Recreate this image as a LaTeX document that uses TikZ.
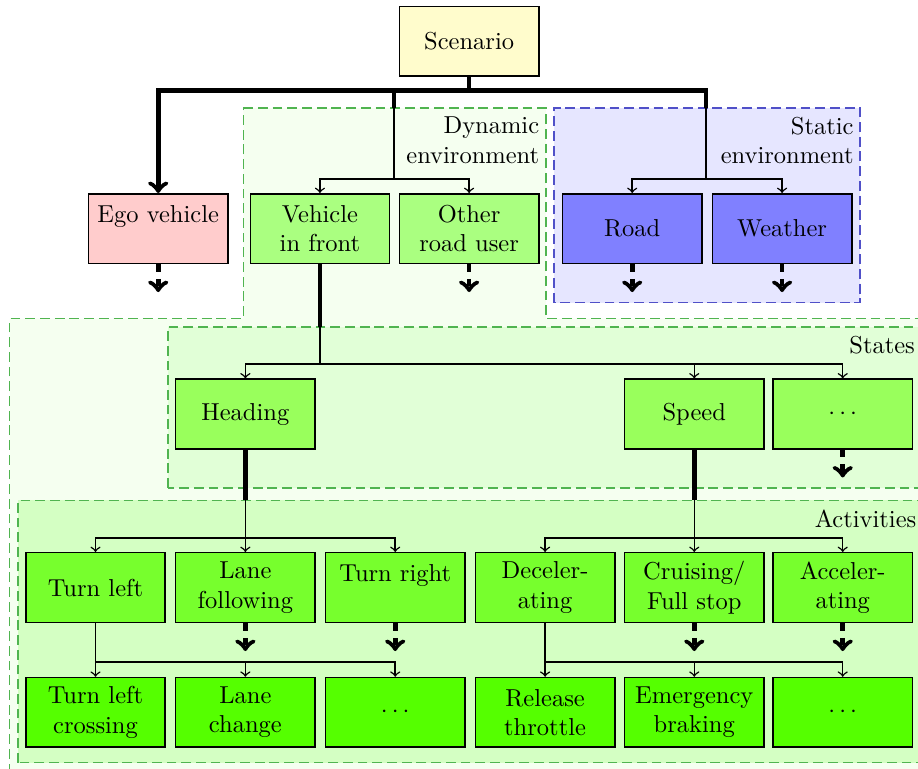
\documentclass[tikz,border=0pt]{standalone}
\usepackage{tikz,xcolor}
\definecolor{scenYellow}{RGB}{255,252,204}
\definecolor{egoRed}{RGB}{255,204,204}
\definecolor{dynGreen}{RGB}{170,255,128}
\definecolor{stateGreen}{RGB}{153,255,92}
\definecolor{actGreen}{RGB}{119,255,45}
\definecolor{subGreen}{RGB}{85,255,0}
\definecolor{staticBlue}{RGB}{128,128,255}
\definecolor{frameGreen}{RGB}{80,180,80}
\definecolor{frameBlue}{RGB}{80,80,200}
\definecolor{dynBg}{RGB}{245,255,240}
\definecolor{stateBg}{RGB}{225,255,215}
\definecolor{actBg}{RGB}{212,255,195}
\definecolor{staticBg}{RGB}{230,230,255}

\tikzset{
  box/.style={draw, semithick, minimum width=2cm, minimum height=1cm, align=center, inner sep=2pt},
  region/.style={semithick, dash pattern=on 4pt off 2pt},
  trunk/.style={line width=1.9pt},
  branch/.style={semithick},
  more/.style={->, line width=1.9pt, dash pattern=on 3pt off 3pt},
  tag/.style={anchor=north east, align=right, inner xsep=2.5pt, inner ysep=3.5pt}
}

\begin{document}
\begin{tikzpicture}

\useasboundingbox (0,0) rectangle (13.17,11.03);
\clip (0,0) rectangle (13.17,11.03);

% ── Regions ──
\fill[dynBg] (3.49,9.48) -- (7.83,9.48) -- (7.83,6.46) -- (13.35,6.46) -- (13.35,-0.1)
  -- (0.14,-0.1) -- (0.14,6.46) -- (3.49,6.46) -- cycle;
\draw[region, frameGreen] (3.49,9.48) -- (7.83,9.48) -- (7.83,6.46) -- (13.35,6.46) -- (13.35,-0.1)
  -- (0.14,-0.1) -- (0.14,6.46) -- (3.49,6.46) -- cycle;
\filldraw[region, draw=frameBlue, fill=staticBg] (7.95,6.69) rectangle (12.34,9.48);
\filldraw[region, draw=frameGreen, fill=stateBg] (2.41,4.03) rectangle (13.22,6.34);
\filldraw[region, draw=frameGreen, fill=actBg] (0.26,0.09) rectangle (13.24,3.85);

\node[tag] (dynlabel) at (7.83,9.48) {Dynamic\\environment};
\node[tag] (stlabel) at (12.34,9.48) {Static\\environment};
\node[tag] (statelabel) at (13.22,6.34) {States};
\node[tag] (actlabel) at (13.24,3.85) {Activities};

% ── Top levels ──
\node[box, fill=scenYellow] (scenario) at (6.73,10.44) {Scenario};
\node[box, fill=egoRed] (ego) at (2.27,7.75) {Ego vehicle\\\mbox{}};
\node[box, fill=dynGreen] (vfront) at (4.59,7.75) {Vehicle\\in front};
\node[box, fill=dynGreen] (other) at (6.73,7.75) {Other\\road user};
\node[box, fill=staticBlue] (road) at (9.07,7.75) {Road};
\node[box, fill=staticBlue] (weather) at (11.22,7.75) {Weather};

% ── States ──
\node[box, fill=stateGreen] (heading) at (3.52,5.09) {Heading};
\node[box, fill=stateGreen] (speed) at (9.96,5.09) {Speed};
\node[box, fill=stateGreen] (sdots) at (12.09,5.09) {$\cdots$};

% ── Activities ──
\node[box, fill=actGreen] (tleft) at (1.37,2.60) {Turn left};
\node[box, fill=actGreen] (lanef) at (3.52,2.60) {Lane\\following};
\node[box, fill=actGreen] (tright) at (5.67,2.60) {Turn right\\\mbox{}};
\node[box, fill=actGreen] (decel) at (7.82,2.60) {Deceler-\\ating};
\node[box, fill=actGreen] (cruise) at (9.96,2.60) {Cruising/\\Full stop};
\node[box, fill=actGreen] (accel) at (12.09,2.60) {Acceler-\\ating};

\node[box, fill=subGreen] (tlcross) at (1.37,0.81) {Turn left\\crossing};
\node[box, fill=subGreen] (lchange) at (3.52,0.81) {Lane\\change};
\node[box, fill=subGreen] (adots) at (5.67,0.81) {$\cdots$};
\node[box, fill=subGreen] (release) at (7.82,0.81) {Release\\throttle};
\node[box, fill=subGreen] (emerg) at (9.96,0.81) {Emergency\\braking};
\node[box, fill=subGreen] (bdots) at (12.09,0.81) {$\cdots$};

% ── Connectors ──
\coordinate (bus) at (6.73,9.73);
\coordinate (dyntop) at (5.65,9.48);
\coordinate (sttop) at (10.13,9.48);
\coordinate (dynfork) at (5.65,8.46);
\coordinate (stfork) at (10.13,8.46);
\coordinate (statetop) at (4.59,6.34);
\coordinate (statefork) at (4.59,5.81);
\coordinate (headtop) at (3.52,3.85);
\coordinate (headfork) at (3.52,3.31);
\coordinate (speedtop) at (9.96,3.85);
\coordinate (speedfork) at (9.96,3.31);
\coordinate (tlfork) at (1.37,1.53);
\coordinate (decfork) at (7.82,1.53);

\draw[trunk] (scenario) -- (bus);
\draw[trunk, ->] (bus) -| (ego);
\draw[trunk] (bus) -| (dyntop);
\draw[trunk] (bus) -| (sttop);

\draw[branch] (dyntop) -- (dynfork);
\draw[branch, ->] (dynfork) -| (vfront);
\draw[branch, ->] (dynfork) -| (other);
\draw[branch] (sttop) -- (stfork);
\draw[branch, ->] (stfork) -| (road);
\draw[branch, ->] (stfork) -| (weather);

\draw[trunk] (vfront) -- (statetop);
\draw[branch] (statetop) -- (statefork);
\foreach \n in {heading,speed,sdots}
  \draw[branch, ->] (statefork) -| (\n);

\draw[trunk] (heading) -- (headtop);
\draw[branch] (headtop) -- (headfork);
\foreach \n in {tleft,lanef,tright}
  \draw[branch, ->] (headfork) -| (\n);

\draw[trunk] (speed) -- (speedtop);
\draw[branch] (speedtop) -- (speedfork);
\foreach \n in {decel,cruise,accel}
  \draw[branch, ->] (speedfork) -| (\n);

\draw[branch] (tleft) -- (tlfork);
\foreach \n in {tlcross,lchange,adots}
  \draw[branch, ->] (tlfork) -| (\n);

\draw[branch] (decel) -- (decfork);
\foreach \n in {release,emerg,bdots}
  \draw[branch, ->] (decfork) -| (\n);

% ── Further levels ──
\foreach \n in {ego,other,road,weather,sdots,lanef,tright,cruise,accel}
  \draw[more] (\n.south) -- ++(0,-0.4);

\end{tikzpicture}
\end{document}
